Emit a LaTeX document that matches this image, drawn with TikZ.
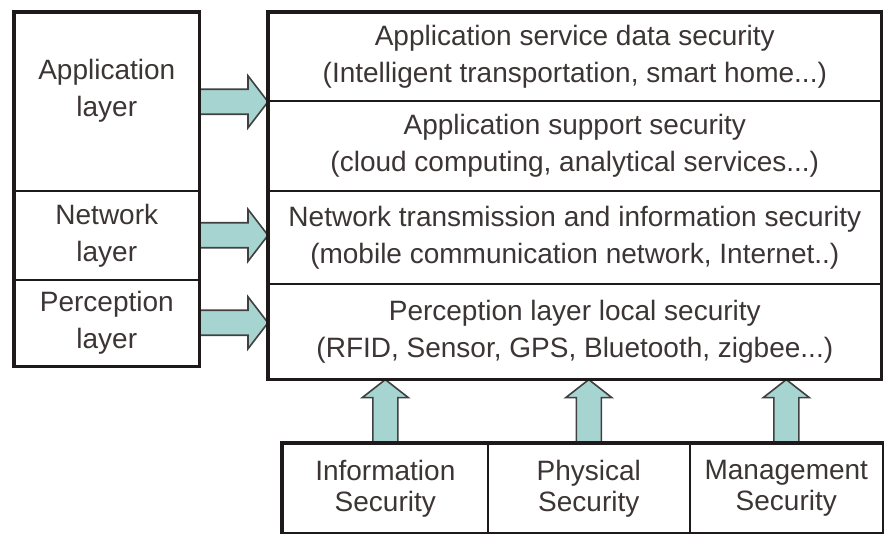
\documentclass[tikz,border=0pt]{standalone}
\usepackage{fontspec}
\setmainfont{Liberation Sans}
\usepackage{tikz}
\usetikzlibrary{calc}
\definecolor{inkcol}{HTML}{3D3535}
\definecolor{linecol}{HTML}{1E1A1A}
\definecolor{arrowfill}{HTML}{A6D4D0}
\definecolor{arrowline}{HTML}{404040}
\tikzset{
	cell/.style={draw=linecol, line width=1.6pt, inner sep=0pt, anchor=north west, align=center, text=inkcol, font=\fontsize{28}{37}\selectfont},
	labtext/.style={align=center, text=inkcol, font=\fontsize{28}{37}\selectfont},
	frame/.style={draw=linecol, line width=3.6pt},
	blockarrow/.style={draw=arrowline, fill=arrowfill, line width=1.6pt, line join=miter}
}
\newcommand{\harrow}[2]{%
	\draw[blockarrow] let \p1=(#1.east), \p2=(#2.west|-#1.east) in
		(\x1,\y1-12.5pt) -- (\x2-20pt,\y1-12.5pt) -- (\x2-20pt,\y1-26pt) -- (\x2,\y1)
		-- (\x2-20pt,\y1+26pt) -- (\x2-20pt,\y1+12.5pt) -- (\x1,\y1+12.5pt) -- cycle;
}
\newcommand{\varrow}[2]{%
	\draw[blockarrow] let \p1=(#1.north), \p2=(#1.north|-#2.south) in
		(\x1-12.5pt,\y1) -- (\x1-12.5pt,\y2-18pt) -- (\x1-23pt,\y2-18pt) -- (\x2,\y2)
		-- (\x1+23pt,\y2-18pt) -- (\x1+12.5pt,\y2-18pt) -- (\x1+12.5pt,\y1) -- cycle;
}

\begin{document}
\begin{tikzpicture}[x=1pt, y=-1pt]
			\useasboundingbox[fill=white] (0,0) rectangle (884,534);
			\node[cell, minimum width=184pt, minimum height=178pt, label={[labtext, yshift=11pt]center:{Application\\layer}}] (appl) at (14,12) {};
			\node[cell, minimum width=184pt, minimum height=89pt] (netw) at (14,190) {Network\\layer};
			\node[cell, minimum width=184pt, minimum height=86pt] (perc) at (14,279) {Perception\\layer};
			\node[cell, minimum width=612pt, minimum height=88pt] (srvdata) at (268,12) {Application service data security\\(Intelligent transportation, smart home...)};
			\node[cell, minimum width=612pt, minimum height=90pt] (support) at (268,100) {Application support security\\(cloud computing, analytical services...)};
			\node[cell, minimum width=612pt, minimum height=93pt] (transm) at (268,190) {Network transmission and information security\\(mobile communication network, Internet..)};
			\node[cell, minimum width=612pt, minimum height=95pt] (local) at (268,283) {Perception layer local security\\(RFID, Sensor, GPS, Bluetooth, zigbee...)};
			\node[cell, font=\fontsize{28}{31}\selectfont, minimum width=205pt, minimum height=89pt] (infosec) at (282,443) {Information\\Security};
			\node[cell, font=\fontsize{28}{31}\selectfont, minimum width=202pt, minimum height=89pt] (physec) at (487,443) {Physical\\Security};
			\node[cell, font=\fontsize{28}{31}\selectfont, minimum width=193pt, minimum height=89pt] (mgmtsec) at (689,443) {Management\\Security};
			\harrow{appl}{srvdata}
			\harrow{netw}{transm}
			\harrow{perc}{local}
			\varrow{infosec}{local}
			\varrow{physec}{local}
			\varrow{mgmtsec}{local}
			\draw[frame] (appl.north west) rectangle (perc.south east);
			\draw[frame] (srvdata.north west) rectangle (local.south east);
			\draw[frame] (infosec.north west) rectangle (mgmtsec.south east);
		\end{tikzpicture}
\end{document}
